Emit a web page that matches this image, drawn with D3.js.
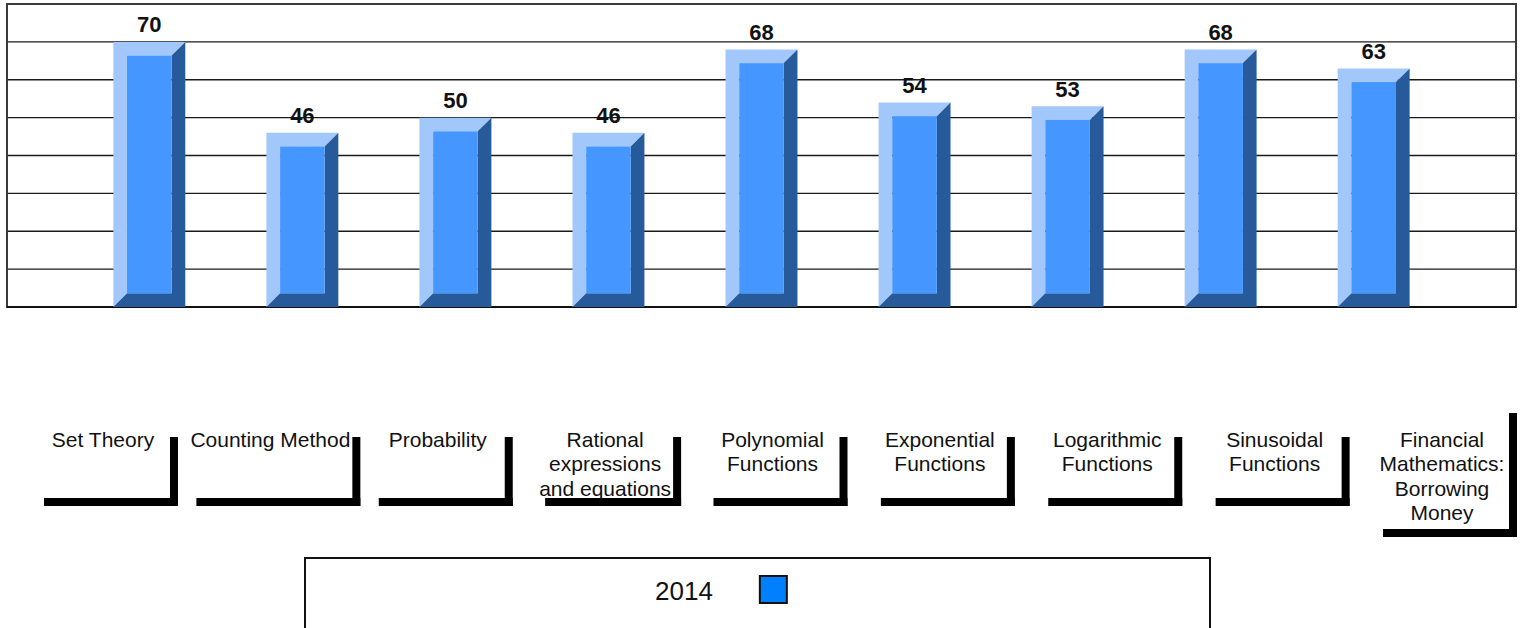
<!DOCTYPE html>
<html>
<head>
<meta charset="utf-8">
<script src="https://cdn.jsdelivr.net/npm/d3@7"></script>
<style>
  body { margin: 0; background: #fff; }
  svg { display: block; font-family: "Liberation Sans", Arial, sans-serif; }
</style>
</head>
<body>
<svg width="1524" height="628"></svg>
<script>
// data
const categories = [
    "Set Theory",
    "Counting Method",
    "Probability",
    "Rational\nexpressions\nand equations",
    "Polynomial\nFunctions",
    "Exponential\nFunctions",
    "Logarithmic\nFunctions",
    "Sinusoidal\nFunctions",
    "Financial\nMathematics:\nBorrowing\nMoney"
];
const values2014 = [70, 46, 50, 46, 68, 54, 53, 68, 63];
const yTicks = [0, 10, 20, 30, 40, 50, 60, 70, 80];
const seriesName = "2014";

const svg = d3.select("svg");

const plot = { left: 7, right: 1516, top: 4, bottom: 307 };

const x = d3.scalePoint()
    .domain(categories)
    .range([plot.left, plot.right])
    .padding(0.93);

const y = d3.scaleLinear()
    .domain([0, 80])
    .range([plot.bottom, plot.top]);

// label boxes sit on their own spread under the plot
const lx = d3.scalePoint()
    .domain(categories)
    .range([103, 1442]);

// gridlines
svg.append("g")
    .selectAll("line")
    .data(yTicks.slice(1, -1))
    .join("line")
    .attr("x1", plot.left).attr("x2", plot.right)
    .attr("y1", d => y(d)).attr("y2", d => y(d))
    .attr("stroke", "#1a1a1a")
    .attr("stroke-width", 1.3);

// frame
svg.append("rect")
    .attr("x", plot.left).attr("y", plot.top)
    .attr("width", plot.right - plot.left)
    .attr("height", plot.bottom - plot.top)
    .attr("fill", "none")
    .attr("stroke", "#3a3a3a")
    .attr("stroke-width", 2);

svg.append("line")
    .attr("x1", plot.left).attr("x2", plot.right)
    .attr("y1", y(0)).attr("y2", y(0))
    .attr("stroke", "#111")
    .attr("stroke-width", 2);

// bevelled bars
const barW = x.step() * 0.47;
const bev = barW * 0.19;
const data = categories.map((c, i) => ({ cat: c, value: values2014[i] }));

const bars = svg.append("g")
    .selectAll("g")
    .data(data)
    .join("g");

const pts = arr => arr.map(p => p.join(",")).join(" ");

bars.append("polygon")
    .attr("fill", "#a2c8fb")
    .attr("points", d => {
        const x0 = x(d.cat) - barW / 2, x1 = x(d.cat) + barW / 2;
        const yt = y(d.value), yb = y(0);
        return pts([[x0, yt], [x1, yt], [x1 - bev, yt + bev], [x0 + bev, yt + bev], [x0 + bev, yb - bev], [x0, yb]]);
    });

bars.append("polygon")
    .attr("fill", "#275a9b")
    .attr("points", d => {
        const x0 = x(d.cat) - barW / 2, x1 = x(d.cat) + barW / 2;
        const yt = y(d.value), yb = y(0);
        return pts([[x1, yt], [x1, yb], [x0, yb], [x0 + bev, yb - bev], [x1 - bev, yb - bev], [x1 - bev, yt + bev]]);
    });

bars.append("rect")
    .attr("fill", "#4596ff")
    .attr("x", d => x(d.cat) - barW / 2 + bev)
    .attr("y", d => y(d.value) + bev)
    .attr("width", barW - 2 * bev)
    .attr("height", d => y(0) - y(d.value) - 2 * bev);

bars.append("text")
    .attr("x", d => x(d.cat))
    .attr("y", d => y(d.value) - 9.5)
    .attr("text-anchor", "middle")
    .attr("font-size", 22)
    .attr("font-weight", "bold")
    .attr("fill", "#111")
    .text(d => d.value);

// category label boxes with drop shadow
const lineH = 24.3;
const shadow = 8;

const labels = svg.append("g")
    .selectAll("g")
    .data(categories)
    .join("g");

labels.each(function (c) {
    const g = d3.select(this);
    const lines = c.split("\n");
    const t = g.append("text")
        .attr("text-anchor", "middle")
        .attr("font-size", 21)
        .attr("fill", "#111");
    t.selectAll("tspan")
        .data(lines)
        .join("tspan")
        .attr("x", lx(c))
        .attr("y", (d, i) => 447 + i * lineH)
        .text(d => d);
    const maxW = d3.max(t.selectAll("tspan").nodes(), n => n.getComputedTextLength());
    const w = Math.max(134, maxW + 4);
    const extra = Math.max(0, lines.length - 3);
    const y0 = 429 - extra * 24;
    const h = 69 + extra * 55;
    const x0 = lx(c) - w / 2, x1 = lx(c) + w / 2, y1 = y0 + h;
    g.insert("rect", "text")
        .attr("x", x1).attr("y", y0 + shadow)
        .attr("width", shadow).attr("height", h)
        .attr("fill", "#000");
    g.insert("rect", "text")
        .attr("x", x0 + shadow).attr("y", y1)
        .attr("width", w).attr("height", shadow)
        .attr("fill", "#000");
});

// legend
const legend = svg.append("g");
legend.append("rect")
    .attr("x", 305).attr("y", 558)
    .attr("width", 905).attr("height", 90)
    .attr("fill", "#fff")
    .attr("stroke", "#111")
    .attr("stroke-width", 2);

const lt = legend.append("text")
    .attr("x", 655).attr("y", 600)
    .attr("font-size", 26)
    .attr("fill", "#111")
    .text(seriesName);

legend.append("rect")
    .attr("x", 655 + lt.node().getComputedTextLength() + 47)
    .attr("y", 576)
    .attr("width", 27).attr("height", 27)
    .attr("fill", "#0080ff")
    .attr("stroke", "#111")
    .attr("stroke-width", 2);
</script>
</body>
</html>
